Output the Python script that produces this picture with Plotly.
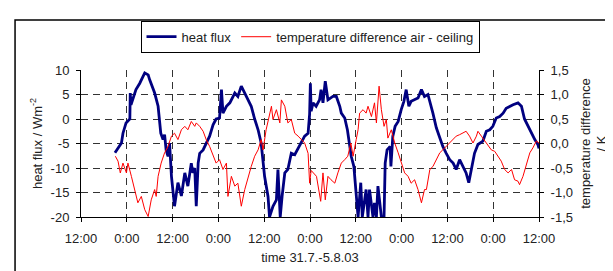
import plotly.graph_objects as go

# time in hours since 31.7.03 12:00
hf_time = [8.9, 9.7, 10.6, 11.0, 11.8, 12.8, 12.9, 13.1, 14.4, 15.4, 16.7, 17.6, 18.0, 19.3, 20.2,
           20.9, 21.5, 21.9, 22.3, 22.8, 23.2, 23.7, 24.5, 25.4, 26.3, 27.2, 28.0, 28.9, 29.3, 29.8,
           30.2, 30.7, 31.1, 32.0, 32.8, 33.7, 34.6, 35.4, 36.3, 36.8, 37.2, 38.1, 39.0, 40.3, 41.1,
           42.0, 42.9, 43.8, 44.6, 45.5, 46.4, 47.2, 47.7, 48.1, 49.0, 49.4, 50.3, 51.2, 51.6, 52.2,
           52.7, 53.4, 54.2, 55.1, 56.0, 56.9, 57.7, 58.6, 59.5, 59.9, 60.1, 60.3, 60.8, 61.6, 62.5,
           62.9, 63.4, 64.0, 64.7, 66.0, 66.9, 67.8, 68.2, 69.1, 69.8, 70.4, 70.8, 71.5, 72.1, 72.6,
           73.3, 73.7, 74.7, 75.2, 75.6, 76.5, 76.9, 77.4, 77.8, 78.7, 79.4, 79.7, 80.2, 81.0, 81.2,
           81.7, 82.3, 83.1, 83.9, 84.6, 85.2, 85.9, 86.5, 87.4, 88.3, 89.2, 90.0, 90.9, 91.4, 92.2,
           93.1, 94.0, 94.8, 95.7, 96.6, 97.5, 98.3, 99.2, 100.1, 100.9, 101.6, 102.3, 103.1, 104.0,
           105.3, 106.2, 107.1, 107.9, 108.8, 109.7, 110.6, 111.4, 112.3, 113.2, 114.5, 115.4, 116.2,
           117.1, 118.0, 118.9, 119.7, 120.0]
heat_flux = [-6.9, -5.9, -4.9, -2.9, -0.8, 0.0, 5.3, 2.9, 6.0, 7.3, 9.4, 9.0, 8.0, 5.3, 2.6,
             -2.9, -4.2, -3.2, -6.3, -7.6, -4.9, -11.7, -17.8, -13.0, -15.7, -11.0, -13.7, -9.0, -11.0, -10.0,
             -17.8, -9.0, -7.0, -6.3, -4.9, -3.5, -1.2, 0.0, 0.2, 6.0, 1.2, 2.6, 3.3, 5.3, 4.6,
             6.7, 5.3, 3.9, 2.6, 0.0, -2.2, -4.9, -9.0, -11.7, -15.8, -20.0, -17.8, -16.5, -10.3, -20.0,
             -15.7, -11.0, -10.3, -7.0, -7.3, -5.9, -4.9, -3.5, -2.9, 1.0, 7.3, 1.6, 3.3, 2.6, 3.9,
             6.0, 3.3, 7.7, 3.9, 4.6, 4.6, 2.6, 1.2, 0.2, -2.2, -5.6, -7.6, -9.7, -15.8, -20.0,
             -13.0, -20.0, -14.4, -20.0, -14.4, -20.0, -17.1, -20.0, -13.7, -20.0, -20.0, -9.0, -6.3, -5.6, -9.7,
             -3.5, -1.5, -0.5, 1.9, 3.6, 6.0, 2.6, 3.6, 3.9, 4.3, 6.0, 4.6, 5.0, 3.3, 1.2,
             -1.8, -3.9, -5.6, -7.0, -8.3, -9.0, -10.3, -8.3, -9.7, -11.0, -13.0, -10.3, -7.0, -5.2,
             -4.5, -2.5, -2.2, -1.5, 0.2, 0.5, 1.2, 2.2, 2.6, 2.9, 3.3, 2.6, 0.0,
             -1.5, -2.9, -4.2, -5.2, -6.0]

dt_time = [9.0, 9.7, 10.3, 11.0, 11.9, 12.3, 13.2, 14.1, 14.9, 15.8, 16.7, 17.6, 18.4, 19.3, 19.7,
           20.2, 21.0, 21.9, 22.8, 23.7, 24.5, 25.4, 26.3, 27.2, 28.0, 28.9, 29.8, 30.2, 31.1, 32.0,
           32.8, 33.7, 34.6, 35.4, 36.3, 37.2, 38.1, 38.5, 39.4, 40.3, 41.1, 42.0, 42.9, 43.8, 44.6,
           45.5, 46.4, 47.2, 47.7, 48.5, 49.4, 49.9, 50.3, 51.2, 52.1, 52.5, 53.4, 54.2, 55.1, 56.0,
           56.9, 57.7, 58.6, 59.5, 59.9, 60.3, 61.0, 61.7, 62.8, 63.4, 64.0, 64.7, 65.5, 66.5, 67.3,
           68.2, 69.1, 69.9, 70.7, 71.3, 72.1, 72.6, 73.0, 73.9, 74.7, 75.2, 76.1, 76.9, 77.4, 78.1,
           78.7, 79.4, 80.0, 80.4, 81.3, 82.2, 83.1, 83.9, 84.8, 85.7, 86.5, 87.4, 88.3, 89.2, 89.6,
           90.0, 90.5, 91.4, 92.2, 93.1, 94.0, 94.8, 95.7, 96.6, 97.5, 98.3, 99.2, 100.1, 100.9, 101.8,
           102.7, 103.6, 104.0, 104.9, 105.8, 106.6, 107.5, 108.4, 109.3, 110.1, 111.0, 111.9, 112.8, 113.6,
           114.5, 114.9, 115.8, 116.7, 117.6, 118.4, 119.3, 120.0]
temp_diff = [-0.26, -0.36, -0.60, -0.40, -0.60, -0.40, -0.67, -0.94, -1.21, -1.08, -1.35, -1.49, -1.15, -0.94, -1.08,
             -0.67, -0.40, -0.19, -0.06, 0.15, 0.21, 0.08, 0.28, 0.35, 0.28, 0.45, 0.35, 0.42, 0.35, 0.25,
             0.08, -0.06, -0.26, -0.40, -0.33, -0.53, -0.40, -1.08, -0.67, -0.87, -0.81, -1.28, -0.94, -0.67, -0.47,
             -0.26, -0.13, 0.08, -0.13, 0.28, 0.55, 0.76, 0.49, 0.69, 0.42, 0.89, 0.76, 0.42, 0.49, 0.21,
             0.15, 0.08, 0.01, -0.20, -0.81, -0.55, -0.60, -0.67, -1.18, -0.60, -1.15, -0.67, -0.74, -0.81, -0.60,
             -0.40, -0.33, -0.26, 0.01, -0.26, 0.08, 0.28, 0.62, 0.69, 0.62, 0.76, 0.55, 0.83, 0.42, 1.17,
             0.69, 0.35, 0.49, 0.11, 0.28, 0.01, -0.19, -0.40, -0.60, -0.67, -0.81, -0.74, -0.94, -1.21, -1.08,
             -0.94, -0.94, -0.53, -0.47, -0.33, -0.19, -0.13, -0.06, 0.01, 0.08, 0.15, 0.18, 0.21, 0.25, 0.15,
             0.01, 0.15, 0.25, 0.15, 0.05, -0.02, -0.13, -0.16, -0.26, -0.36, -0.53, -0.60, -0.53, -0.74,
             -0.77, -0.84, -0.67, -0.40, -0.19, -0.09, 0.05, 0.01]

x_tickvals = [0, 12, 24, 36, 48, 60, 72, 84, 96, 108, 120]
x_ticktext = ["12:00", "0:00", "12:00", "0:00", "12:00", "0:00", "12:00", "0:00", "12:00", "0:00", "12:00"]
y1_tickvals = [-20, -15, -10, -5, 0, 5, 10]
y1_ticktext = ["-20", "-15", "-10", "-5", "0", "5", "10"]
y2_tickvals = [-1.5, -1.0, -0.5, 0.0, 0.5, 1.0, 1.5]
y2_ticktext = ["-1,5", "-1,0", "-0,5", "0,0", "0,5", "1,0", "1,5"]

FONT = "Liberation Sans, Arial, sans-serif"
FS = 13

fig = go.Figure()
fig.add_trace(go.Scatter(x=hf_time, y=heat_flux, mode="lines", name="heat flux",
                         line=dict(color="#000080", width=2.8), yaxis="y"))
fig.add_trace(go.Scatter(x=dt_time, y=temp_diff, mode="lines",
                         name="temperature difference air - ceiling",
                         line=dict(color="#ff0000", width=1), yaxis="y2"))

fig.update_layout(
    template="none",
    width=613, height=271,
    margin=dict(l=73, r=82, t=62, b=62, autoexpand=False),
    paper_bgcolor="white", plot_bgcolor="white",
    font=dict(family=FONT, size=FS, color="#222"),
    showlegend=True,
    hovermode=False,
    legend=dict(orientation="h", x=0.5, xanchor="center", y=1.335, yanchor="top",
                bordercolor="#000", borderwidth=1, bgcolor="white",
                font=dict(family=FONT, size=FS, color="#222"),
                itemwidth=30, tracegroupgap=0),
    xaxis=dict(range=[0, 120], tickvals=x_tickvals, ticktext=x_ticktext, automargin=False,
               showline=True, linecolor="#000", linewidth=1, mirror=False,
               ticks="outside", ticklen=4, tickcolor="#000", ticklabelstandoff=5,
               showgrid=True, gridcolor="#333", gridwidth=1, griddash="7px,5px",
               zeroline=False, title=dict(text="time 31.7.-5.8.03", standoff=8,
                                          font=dict(size=FS))),
    yaxis=dict(range=[-20, 10], tickvals=y1_tickvals, ticktext=y1_ticktext, automargin=False,
               showline=True, linecolor="#000", linewidth=1,
               ticks="outside", ticklen=4, tickcolor="#000", ticklabelstandoff=4,
               showgrid=True, gridcolor="#333", gridwidth=1, griddash="7px,5px",
               zeroline=False, title=dict(text="heat flux / Wm<sup>-2</sup>", standoff=5,
                                          font=dict(size=FS))),
    yaxis2=dict(range=[-1.5, 1.5], tickvals=y2_tickvals, ticktext=y2_ticktext, automargin=False,
                overlaying="y", side="right", anchor="x",
                showline=True, linecolor="#000", linewidth=1,
                ticks="outside", ticklen=4, tickcolor="#000", ticklabelstandoff=4,
                showgrid=False, zeroline=False,
                title=dict(text="temperature difference<br>/ K", standoff=8,
                           font=dict(size=FS))),
    shapes=[dict(type="rect", xref="paper", yref="paper",
                 x0=-0.144, x1=1.2, y0=-0.5, y1=1.34,
                 line=dict(color="#000", width=1.5), fillcolor="rgba(0,0,0,0)", layer="below")],
)

fig.write_html("out.html")
